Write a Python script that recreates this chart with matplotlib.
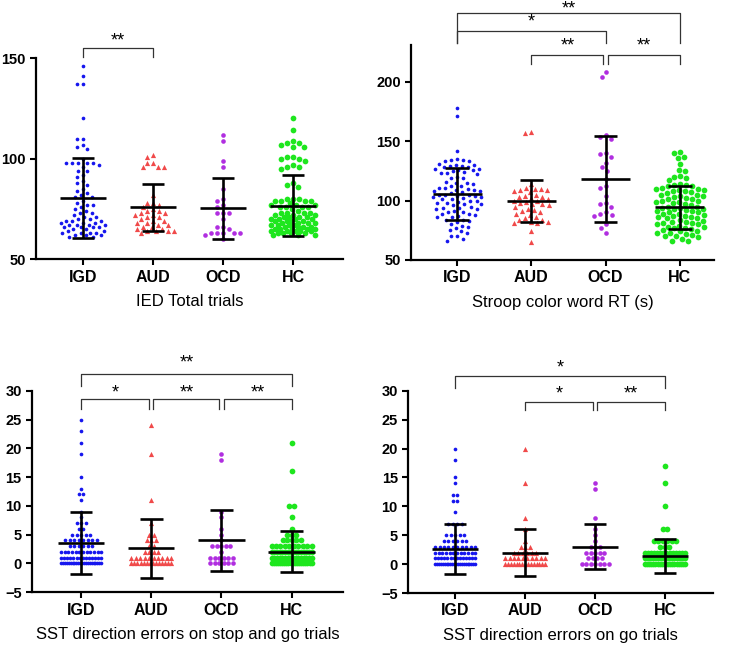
import numpy as np
import matplotlib
matplotlib.use('Agg')
import matplotlib.pyplot as plt

plt.rcParams['font.family'] = ['Liberation Sans', 'DejaVu Sans']

groups = ['IGD', 'AUD', 'OCD', 'HC']
colors = ['#1616ee', '#f04a4a', '#b02ee0', '#1ee61e']
markers = ['o', '^', 'o', 'o']
msizes = [7, 14, 11, 17]

# ---------------- Panel 1: IED Total trials ----------------
ied_igd = [146, 141, 137, 137, 120, 110, 110, 107, 106, 105, 100, 98, 98, 98, 98, 98, 97, 96,
           94, 94, 92, 91, 89, 88, 87, 85, 84, 83, 82, 81, 81, 79, 78, 77, 77, 76, 75, 74, 73,
           73, 72, 71, 71, 70, 70, 69, 69, 69, 68, 68, 68, 67, 67, 67, 67, 66, 66, 66, 66, 65,
           65, 64, 64, 63, 63, 63, 63, 62, 62, 62, 61, 61]
ied_aud = [102, 101, 98, 98, 96, 96, 96, 82, 78, 78, 77, 76, 75, 74, 74, 73, 73, 72, 72, 71,
           71, 70, 69, 69, 68, 68, 67, 67, 66, 66, 65, 65, 64, 64, 64, 64, 63]
ied_ocd = [112, 109, 99, 96, 85, 80, 79, 77, 76, 73, 73, 73, 70, 66, 66, 65, 63, 63, 63, 63,
           63, 62, 60]
ied_hc = [120, 114, 109, 108, 108, 107, 106, 106, 101, 101, 100, 100, 99, 97, 96, 96, 95, 88,
          87, 86, 80, 80, 80, 79, 79, 79, 79, 78, 77, 77, 77, 76, 76, 76, 76, 75, 74, 73, 73,
          73, 73, 72, 72, 72, 71, 71, 71, 71, 70, 70, 70, 70, 69, 69, 69, 69, 68, 68, 68, 68,
          67, 67, 67, 67, 66, 66, 66, 66, 65, 65, 65, 65, 65, 64, 64, 64, 64, 64, 63, 63, 63,
          63, 62, 62, 62]
ied_mean = [80.5, 75.8, 75.4, 76.7]
ied_sd = [19.8, 11.8, 15.2, 15.2]

# ---------------- Panel 2: Stroop color word RT ----------------
stroop_igd = [178, 171, 142, 135, 134, 134, 133, 133, 131, 130, 130, 129, 129, 128, 128, 127,
              127, 126, 126, 125, 124, 123, 123, 122, 120, 119, 119, 116, 115, 115, 114, 112,
              112, 111, 111, 110, 109, 109, 108, 108, 107, 106, 105, 105, 105, 104, 104, 103,
              103, 102, 101, 101, 100, 100, 99, 98, 98, 97, 97, 96, 95, 94, 94, 93, 93, 91,
              90, 90, 89, 89, 88, 87, 86, 86, 84, 84, 83, 82, 80, 79, 78, 77, 75, 74, 73, 70,
              70, 68, 66]
stroop_aud = [158, 157, 114, 111, 110, 110, 109, 109, 108, 107, 105, 104, 103, 103, 102, 101,
              100, 100, 99, 98, 97, 97, 96, 95, 93, 92, 91, 90, 89, 88, 86, 85, 84, 84, 82, 82,
              81, 81, 74, 65]
stroop_ocd = [208, 204, 155, 154, 152, 140, 139, 137, 132, 128, 125, 118, 112, 111, 104, 98,
              97, 95, 90, 89, 88, 87, 80, 77, 73]
stroop_hc = [141, 140, 137, 136, 131, 126, 125, 121, 120, 119, 117, 114, 113, 113, 112, 112,
             111, 110, 110, 109, 109, 108, 108, 107, 106, 105, 105, 104, 104, 103, 102, 101,
             101, 100, 100, 99, 99, 98, 97, 96, 95, 95, 94, 94, 93, 93, 92, 91, 91, 90, 90, 89,
             89, 88, 87, 87, 86, 86, 85, 85, 84, 83, 82, 82, 81, 81, 80, 80, 79, 78, 78, 77,
             77, 76, 75, 74, 74, 73, 73, 72, 71, 70, 70, 69, 68, 66, 66]
stroop_mean = [105.6, 99.9, 118.2, 94.3]
stroop_sd = [21.6, 17.7, 36.6, 18.2]

# ---------------- Panel 3: SST direction errors on stop and go trials ----------------
sst_all_igd = [25, 23, 21, 19, 15, 13, 12, 12, 11, 9, 8, 7, 7, 7, 6, 6, 5, 5, 5, 5, 5,
               4, 4, 4, 4, 4, 4, 4, 4, 3, 3, 3, 3, 3, 3,
               2, 2, 2, 2, 2, 2, 2, 2, 2, 2, 2, 2,
               1, 1, 1, 1, 1, 1, 1, 1, 1, 1, 1, 1, 1, 1,
               0, 0, 0, 0, 0, 0, 0, 0, 0, 0, 0, 0, 0, 0, 0, 0, 0, 0, 0, 0, 0, 0]
sst_all_aud = [24, 19, 11, 7, 5, 5, 4, 4, 4, 3, 3, 2, 2, 2, 2,
               1, 1, 1, 1, 1, 1, 1, 1, 1, 1,
               0, 0, 0, 0, 0, 0, 0, 0, 0, 0, 0, 0, 0, 0]
sst_all_ocd = [19, 18, 9, 8, 6, 5, 4, 3, 3, 3, 3, 3, 2, 1, 1, 1, 1, 1, 1,
               0, 0, 0, 0, 0, 0]
sst_all_hc = [21, 16, 10, 10, 8, 6, 5, 5, 5, 4, 4, 4, 4, 4,
              3, 3, 3, 3, 3, 3, 3, 3, 3, 3,
              2, 2, 2, 2, 2, 2, 2, 2, 2, 2, 2, 2, 2, 2, 2, 2,
              1, 1, 1, 1, 1, 1, 1, 1, 1, 1, 1, 1, 1, 1, 1, 1,
              0, 0, 0, 0, 0, 0, 0, 0, 0, 0, 0, 0, 0, 0, 0, 0, 0, 0, 0, 0]
sst_all_mean = [3.5, 2.6, 4.0, 2.05]
sst_all_sd = [5.35, 5.2, 5.25, 3.5]

# ---------------- Panel 4: SST direction errors on go trials ----------------
sst_go_igd = [20, 18, 15, 14, 12, 12, 11, 11, 9, 7, 7, 7, 7, 5, 5, 5, 5, 5,
              4, 4, 4, 4, 4, 4, 3, 3, 3, 3, 3, 3, 3, 3, 3, 3,
              2, 2, 2, 2, 2, 2, 2, 2, 2, 2, 2, 2,
              1, 1, 1, 1, 1, 1, 1, 1, 1, 1, 1, 1, 1, 1,
              0, 0, 0, 0, 0, 0, 0, 0, 0, 0, 0, 0, 0, 0, 0, 0, 0, 0, 0, 0, 0, 0]
sst_go_aud = [20, 14, 8, 6, 4, 3, 3, 3, 2, 2, 2, 2, 2, 2,
              1, 1, 1, 1, 1, 1, 1, 1, 1, 1,
              0, 0, 0, 0, 0, 0, 0, 0, 0, 0, 0, 0, 0, 0, 0]
sst_go_ocd = [14, 13, 8, 6, 5, 4, 3, 3, 3, 2, 2, 2, 2, 2, 1, 1, 1, 1,
              0, 0, 0, 0, 0, 0, 0]
sst_go_hc = [17, 14, 10, 6, 6, 4, 4, 4, 4, 4, 4, 3, 3, 3,
             2, 2, 2, 2, 2, 2, 2, 2, 2, 2, 2, 2, 2, 2,
             1, 1, 1, 1, 1, 1, 1, 1, 1, 1, 1, 1, 1, 1, 1, 1,
             0, 0, 0, 0, 0, 0, 0, 0, 0, 0, 0, 0, 0, 0, 0, 0, 0, 0, 0, 0]
sst_go_mean = [2.66, 1.97, 3.0, 1.45]
sst_go_sd = [4.33, 4.1, 3.92, 2.94]

fig = plt.figure(figsize=(7.33, 6.45), dpi=100)


def swarm_offsets(ypix, d, halfw):
    order = np.argsort(-np.asarray(ypix), kind='stable')
    placed = []
    xs = np.zeros(len(ypix))
    grid = np.arange(-halfw, halfw + 0.01, 0.5)
    grid = grid[np.lexsort((grid, np.abs(grid)))]
    for i in order:
        y = ypix[i]
        nb = np.array([(px, py) for px, py in placed if abs(py - y) < d])
        if len(nb) == 0:
            xs[i] = 0.0
        else:
            dist = np.sqrt((grid[:, None] - nb[None, :, 0]) ** 2 + (y - nb[None, :, 1]) ** 2)
            mind = dist.min(axis=1)
            ok = np.where(mind >= d - 1e-6)[0]
            if len(ok):
                xs[i] = grid[ok[0]]
            else:
                xs[i] = grid[np.argmax(mind)]
        placed.append((xs[i], y))
    return xs


def row_offsets(vals, d, wmax):
    vals = np.asarray(vals, dtype=float)
    xs = np.zeros(len(vals))
    for v in np.unique(vals):
        idx = np.where(vals == v)[0]
        n = len(idx)
        if n == 1:
            continue
        s = min(d, wmax / (n - 1))
        xs[idx] = (np.arange(n) - (n - 1) / 2) * s
    return xs


def panel(rect, xlim, ylim, yticks, data, means, sds, xlabel, discrete, halfw=22):
    ax = fig.add_axes(rect)
    ax.set_xlim(*xlim)
    ax.set_ylim(*ylim)
    for s in ['top', 'right']:
        ax.spines[s].set_visible(False)
    for s in ['left', 'bottom']:
        ax.spines[s].set_linewidth(1.6)
    ax.set_yticks(yticks)
    ax.set_xticks(range(4))
    ax.set_xticklabels(groups)
    ax.tick_params(width=1.5, length=4)
    ax.tick_params(axis='x', labelsize=11.5)
    ax.tick_params(axis='y', labelsize=10.5)
    for lab in ax.get_xticklabels() + ax.get_yticklabels():
        lab.set_fontweight('bold')
    ax.set_xlabel(xlabel, fontsize=12, labelpad=7)

    bbox = ax.get_window_extent()
    ppu = bbox.width / (xlim[1] - xlim[0])
    for i, vals in enumerate(data):
        ypix = ax.transData.transform(np.column_stack([np.zeros(len(vals)), vals]))[:, 1]
        if discrete:
            off = row_offsets(vals, 4.5, 40)
        else:
            off = swarm_offsets(ypix, 6.0, halfw)
        ax.scatter(i + off / ppu, vals, s=msizes[i], marker=markers[i], color=colors[i],
                   linewidths=0, zorder=2, clip_on=False)
    for i in range(4):
        m, sd = means[i], sds[i]
        ax.hlines(m, i - 0.33, i + 0.33, color='black', lw=1.9, zorder=3)
        ax.vlines(i, m - sd, m + sd, color='black', lw=1.9, zorder=3)
        ax.hlines([m - sd, m + sd], i - 0.16, i + 0.16, color='black', lw=1.9, zorder=3)
    return ax


def bracket(ax, x1, x2, ybar, ystem, text, ytext, va='center'):
    ax.plot([x1, x1, x2, x2], [ystem, ybar, ybar, ystem], color='#333333', lw=0.9,
            clip_on=False, zorder=1)
    ax.text((x1 + x2) / 2, ytext, text, ha='center', va=va, fontsize=13,
            clip_on=False)


ax1 = panel([0.049, 0.598, 0.419, 0.312], (-0.67, 3.71), (50, 150), [50, 100, 150],
            [ied_igd, ied_aud, ied_ocd, ied_hc], ied_mean, ied_sd, 'IED Total trials', False, 22)
bracket(ax1, 0, 1, 154.8, 150.3, '**', 158.5)

ax2 = panel([0.561, 0.597, 0.413, 0.333], (-0.62, 3.46), (50, 231), [50, 100, 150, 200],
            [stroop_igd, stroop_aud, stroop_ocd, stroop_hc], stroop_mean, stroop_sd,
            'Stroop color word RT (s)', False, 24)
bracket(ax2, 0, 3, 258.4, 233.1, '**', 268.8, va='top')
bracket(ax2, 0, 2, 243.2, 233.1, '*', 250.5)
bracket(ax2, 1, 1.97, 223.0, 215.4, '**', 230.0)
bracket(ax2, 2.03, 3, 223.0, 215.4, '**', 230.0)

ax3 = panel([0.0437, 0.082, 0.424, 0.312], (-0.70, 3.73), (-5, 30), list(range(-5, 31, 5)),
            [sst_all_igd, sst_all_aud, sst_all_ocd, sst_all_hc], sst_all_mean, sst_all_sd,
            'SST direction errors on stop and go trials', True)
bracket(ax3, 0, 3, 33.0, 30.8, '**', 34.8)
bracket(ax3, 0, 0.97, 28.5, 26.8, '*', 29.6)
bracket(ax3, 1.03, 1.97, 28.5, 26.8, '**', 29.6)
bracket(ax3, 2.03, 3, 28.5, 26.8, '**', 29.6)

ax4 = panel([0.557, 0.0806, 0.416, 0.3135], (-0.67, 3.69), (-5, 30), list(range(-5, 31, 5)),
            [sst_go_igd, sst_go_aud, sst_go_ocd, sst_go_hc], sst_go_mean, sst_go_sd,
            'SST direction errors on go trials', True)
bracket(ax4, 0, 3, 32.5, 30.5, '*', 34.0)
bracket(ax4, 1, 1.97, 28.1, 26.7, '*', 29.5)
bracket(ax4, 2.03, 3, 28.1, 26.7, '**', 29.5)

fig.savefig('out.png', dpi=100)
